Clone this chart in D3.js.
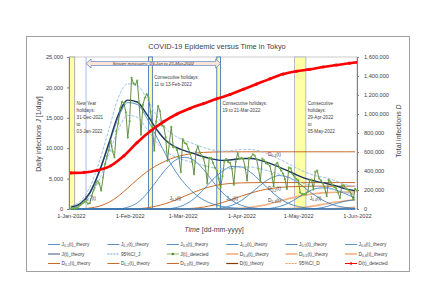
<!DOCTYPE html>
<html>
<head>
<meta charset="utf-8">
<script src="https://cdn.jsdelivr.net/npm/d3@7"></script>
<style>
  body { margin: 0; background: #fff; }
  svg { font-family: "Liberation Sans", Arial, sans-serif; }
</style>
</head>
<body>
<svg id="chart" width="436" height="308"></svg>
<script>
// ---- data ----
const startDate = new Date(2022, 0, 1);

// theory curves are read every 5 days from 1-Jan-2022
const theoryDay = [0, 5, 10, 15, 20, 25, 30, 35, 40, 45, 50, 55, 60, 65, 70, 75, 80, 85, 90, 95, 100, 105, 110, 115, 120, 125, 130, 135, 140, 145, 150];

const J01 = [100, 700, 2500, 6000, 10500, 15000, 17500, 17200, 15000, 12000, 9000, 6300, 4200, 2600, 1500, 800, 400, 200, 80, 30, 0, 0, 0, 0, 0, 0, 0, 0, 0, 0, 0];
const J02 = [0, 0, 0, 0, 0, 0, 300, 1000, 2500, 4500, 6500, 8000, 8500, 8000, 6500, 4500, 2700, 1400, 600, 200, 60, 0, 0, 0, 0, 0, 0, 0, 0, 0, 0];
const J03 = [0, 0, 0, 0, 0, 0, 0, 0, 0, 0, 0, 200, 700, 1700, 3200, 4900, 6200, 7000, 6900, 6000, 4600, 3100, 1800, 900, 400, 150, 50, 0, 0, 0, 0];
const J04 = [0, 0, 0, 0, 0, 0, 0, 0, 0, 0, 0, 0, 0, 0, 0, 0, 200, 600, 1400, 2600, 3900, 5000, 5500, 5200, 4300, 3100, 2000, 1100, 550, 250, 100];
const J05 = [0, 0, 0, 0, 0, 0, 0, 0, 0, 0, 0, 0, 0, 0, 0, 0, 0, 0, 0, 0, 0, 100, 400, 1000, 1900, 2800, 3400, 3500, 3100, 2500, 1800];
const J06 = [0, 0, 0, 0, 0, 0, 0, 0, 0, 0, 0, 0, 0, 0, 0, 0, 0, 0, 0, 0, 0, 0, 0, 0, 0, 0, 100, 400, 900, 1300, 1500];

const Jtheory = [300, 900, 2700, 6200, 10800, 15500, 17900, 17600, 15600, 13200, 11300, 10200, 9600, 9100, 8600, 8200, 8000, 8100, 8300, 8300, 8000, 7500, 6900, 6200, 5500, 4900, 4500, 4200, 3800, 3300, 3000];
const JupperCI = [500, 1300, 3600, 7800, 13000, 18300, 20600, 20300, 18200, 15500, 13300, 12000, 11300, 10700, 10100, 9700, 9500, 9600, 9800, 9800, 9500, 8900, 8200, 7400, 6600, 5900, 5400, 5100, 4600, 4000, 3700];
const JlowerCI = [150, 600, 2000, 4800, 8900, 13000, 15400, 15100, 13200, 11100, 9500, 8600, 8000, 7600, 7200, 6800, 6600, 6700, 6900, 6900, 6600, 6200, 5700, 5100, 4500, 4000, 3700, 3400, 3100, 2700, 2400];

const D01 = [0, 2000, 10000, 30000, 70000, 135000, 220000, 310000, 390000, 455000, 505000, 545000, 570000, 587000, 596000, 600000, 602000, 602000, 602000, 602000, 602000, 602000, 602000, 602000, 602000, 602000, 602000, 602000, 602000, 602000, 602000];
const D02 = [0, 0, 0, 0, 0, 0, 0, 3000, 12000, 30000, 57000, 93000, 135000, 177000, 214000, 242000, 260000, 270000, 275000, 277000, 278000, 278000, 278000, 278000, 278000, 278000, 278000, 278000, 278000, 278000, 278000];
const D03 = [0, 0, 0, 0, 0, 0, 0, 0, 0, 0, 0, 0, 2000, 8000, 20000, 40000, 68000, 101000, 136000, 168000, 195000, 214000, 227000, 234000, 237000, 239000, 240000, 240000, 240000, 240000, 240000];
const D04 = [0, 0, 0, 0, 0, 0, 0, 0, 0, 0, 0, 0, 0, 0, 0, 0, 0, 2000, 7000, 17000, 33000, 55000, 82000, 109000, 133000, 151000, 164000, 172000, 176000, 178000, 179000];
const D05 = [0, 0, 0, 0, 0, 0, 0, 0, 0, 0, 0, 0, 0, 0, 0, 0, 0, 0, 0, 0, 0, 0, 1000, 4000, 11000, 23000, 38000, 56000, 73000, 87000, 98000];
const D06 = [0, 0, 0, 0, 0, 0, 0, 0, 0, 0, 0, 0, 0, 0, 0, 0, 0, 0, 0, 0, 0, 0, 0, 0, 0, 0, 0, 1000, 4000, 10000, 17000];

// detected daily infections, 1-Jan-2022 .. 1-Jun-2022
const Jdetected = [
  79, 84, 103, 151, 390, 641, 922, 1224, 1223, 871, 962, 2198, 3124, 4051, 4561, 4172, 3023, 5185, 7377, 8638, 9699, 11227, 9468, 8503, 12813, 14086, 16538, 17631, 17433, 15895, 11751,
  14445, 21576, 20679, 20442, 21122, 17526, 12214, 17113, 18287, 18891, 18287, 16015, 13625, 9581, 14368, 16912, 16116, 13746, 13577, 11815, 7899, 10986, 13507, 10169, 10190, 9710, 8549, 6070,
  11480, 10870, 10700, 9900, 9100, 7800, 5700, 9400, 10300, 9300, 8800, 8300, 7000, 4200, 8400, 8400, 7600, 6800, 6300, 5000, 3500, 5400, 7800, 8200, 7700, 7600, 6600, 4000, 7800, 9200, 8200,
  8400, 8200, 6800, 4700, 8400, 8500, 9000, 8800, 8200, 6600, 4600, 8300, 8000, 7500, 7400, 7100, 5800, 3700, 7300, 7600, 6800, 6300, 5800, 4900, 3300, 6800, 6700, 5700, 5300, 4900,
  4700, 2700, 2500, 2400, 2400, 2800, 4700, 4800, 3200, 6100, 6300, 5000, 4700, 4200, 3400, 2100, 4800, 4500, 4000, 3600, 3400, 2700, 1800, 3900, 3900, 3400, 3200, 3000, 2400, 1600, 3300,
  3000
];

// detected total infections, read about once a week
const Dday = [0, 7, 14, 21, 28, 35, 42, 49, 56, 63, 70, 77, 84, 91, 98, 105, 112, 119, 126, 133, 140, 147, 151];
const Ddetected = [380000, 385000, 408000, 455000, 560000, 700000, 820000, 920000, 1000000, 1060000, 1110000, 1160000, 1205000, 1260000, 1315000, 1370000, 1420000, 1450000, 1470000, 1495000, 1515000, 1535000, 1545000];

const leftTicks = [0, 5000, 10000, 15000, 20000, 25000];
const rightTicks = [0, 200000, 400000, 600000, 800000, 1000000, 1200000, 1400000, 1600000];
const monthTicks = ["2022-01-01", "2022-02-01", "2022-03-01", "2022-04-01", "2022-05-01", "2022-06-01"];

// holiday bands [from, to, border]
const holidays = [
  ["2021-12-31", "2022-01-03", "#a6a6a6"],
  ["2022-02-11", "2022-02-13", "#4472c4"],
  ["2022-03-19", "2022-03-21", "#4472c4"],
  ["2022-04-29", "2022-05-05", "#a9b8cc"]
];

// ---- setup ----
const svg = d3.select("#chart");
const plot = {left: 69, right: 357, top: 57, bottom: 209};
const parse = d3.timeParse("%Y-%m-%d");
const dayToDate = d => d3.timeDay.offset(startDate, d);

const x = d3.scaleTime()
  .domain([parse("2021-12-31"), parse("2022-06-01")])
  .range([plot.left, plot.right]);
const yL = d3.scaleLinear().domain([0, 25000]).range([plot.bottom, plot.top]);
const yR = d3.scaleLinear().domain([0, 1600000]).range([plot.bottom, plot.top]);

svg.append("rect").attr("width", 436).attr("height", 308).attr("fill", "#fff");
svg.append("rect")
  .attr("x", 26.5).attr("y", 36.5).attr("width", 383).attr("height", 235)
  .attr("fill", "#fff").attr("stroke", "#a0a0a0").attr("stroke-width", 1);

svg.append("defs").append("clipPath").attr("id", "clip")
  .append("rect")
  .attr("x", plot.left).attr("y", plot.top - 2)
  .attr("width", plot.right - plot.left).attr("height", plot.bottom - plot.top + 3);

// plot border
svg.append("rect")
  .attr("x", plot.left).attr("y", plot.top)
  .attr("width", plot.right - plot.left).attr("height", plot.bottom - plot.top)
  .attr("fill", "none").attr("stroke", "#bfbfbf").attr("stroke-width", 0.8);

const g = svg.append("g").attr("clip-path", "url(#clip)");

// holiday bands
holidays.forEach(h => {
  g.append("rect")
    .attr("x", x(parse(h[0])))
    .attr("y", plot.top)
    .attr("width", x(parse(h[1])) - x(parse(h[0])))
    .attr("height", plot.bottom - plot.top)
    .attr("fill", "#ffffa6")
    .attr("stroke", h[2]).attr("stroke-width", 0.9);
});

// start of stricter measures
g.append("line")
  .attr("x1", x(parse("2022-01-09"))).attr("x2", x(parse("2022-01-09")))
  .attr("y1", plot.top).attr("y2", plot.bottom)
  .attr("stroke", "#8faadc").attr("stroke-width", 0.8);

// ---- lines ----
function drawSeries(vals, days, yScale, style) {
  const pts = vals.map((v, i) => [dayToDate(days[i]), v]);
  g.append("path")
    .datum(pts)
    .attr("fill", "none")
    .attr("stroke", style.color)
    .attr("stroke-width", style.width || 0.8)
    .attr("stroke-dasharray", style.dash || null)
    .attr("d", d3.line().x(d => x(d[0])).y(d => yScale(d[1])).curve(style.curve || d3.curveMonotoneX));
}

[D01, D02, D03].forEach(s => drawSeries(s, theoryDay, yR, {color: "#c55a11", width: 0.9}));
[D04, D05, D06].forEach(s => drawSeries(s, theoryDay, yR, {color: "#f4b183", width: 1.6}));

[J01, J02, J03, J04, J05, J06].forEach(s => drawSeries(s, theoryDay, yL, {color: "#2e75b6", width: 0.8}));
drawSeries(JupperCI, theoryDay, yL, {color: "#9dc3e6", width: 1, dash: "3,1.5"});
drawSeries(JlowerCI, theoryDay, yL, {color: "#9dc3e6", width: 1, dash: "3,1.5"});
drawSeries(Jtheory, theoryDay, yL, {color: "#1f3864", width: 1.4});

// detected daily
const jdays = Jdetected.map((v, i) => i);
drawSeries(Jdetected, jdays, yL, {color: "#548235", width: 0.9, curve: d3.curveLinear});
g.selectAll(".jdot")
  .data(Jdetected)
  .enter().append("circle")
  .attr("class", "jdot")
  .attr("cx", (d, i) => x(dayToDate(i)))
  .attr("cy", d => yL(d))
  .attr("r", 1.1)
  .attr("fill", "#70ad47");

// detected total
drawSeries(Ddetected, Dday, yR, {color: "#ff0000", width: 2.6});
g.selectAll(".ddot")
  .data(Ddetected)
  .enter().append("circle")
  .attr("class", "ddot")
  .attr("cx", (d, i) => x(dayToDate(Dday[i])))
  .attr("cy", d => yR(d))
  .attr("r", 1.6)
  .attr("fill", "#ff0000");

// ---- axes ----
const axisFont = 5.6;
const leftAxis = svg.append("g")
  .attr("transform", "translate(" + plot.left + ",0)")
  .call(d3.axisLeft(yL).tickValues(leftTicks).tickFormat(d3.format(",")).tickSize(2).tickPadding(4));
const rightAxis = svg.append("g")
  .attr("transform", "translate(" + plot.right + ",0)")
  .call(d3.axisRight(yR).tickValues(rightTicks).tickFormat(d3.format(",")).tickSize(2).tickPadding(5));
const bottomAxis = svg.append("g")
  .attr("transform", "translate(0," + plot.bottom + ")")
  .call(d3.axisBottom(x).tickValues(monthTicks.map(parse)).tickFormat(d3.timeFormat("%-d-%b-%Y")).tickSize(0).tickPadding(5));

[leftAxis, rightAxis, bottomAxis].forEach(a => {
  a.selectAll("text").attr("font-size", axisFont).attr("fill", "#404040").attr("font-family", "Liberation Sans, Arial, sans-serif");
  a.selectAll("line").attr("stroke", "#808080");
  a.select(".domain").attr("stroke", "#808080");
});
bottomAxis.select(".domain").remove();

// ---- titles ----
svg.append("text")
  .attr("x", 217).attr("y", 49)
  .attr("text-anchor", "middle")
  .attr("font-size", 7.4).attr("fill", "#404040")
  .text("COVID-19 Epidemic versus Time in Tokyo");

const yTitle = svg.append("text")
  .attr("transform", "translate(41,134) rotate(-90)")
  .attr("text-anchor", "middle")
  .attr("font-size", 7).attr("fill", "#404040");
yTitle.append("tspan").text("Daily infections ");
yTitle.append("tspan").attr("font-style", "italic").text("J");
yTitle.append("tspan").text(" [1/day]");

const y2Title = svg.append("text")
  .attr("transform", "translate(401,131) rotate(-90)")
  .attr("text-anchor", "middle")
  .attr("font-size", 7).attr("fill", "#404040");
y2Title.append("tspan").text("Total infections ");
y2Title.append("tspan").attr("font-style", "italic").text("D");

const xTitle = svg.append("text")
  .attr("x", 214).attr("y", 232)
  .attr("text-anchor", "middle")
  .attr("font-size", 7).attr("fill", "#404040");
xTitle.append("tspan").attr("font-style", "italic").text("Time");
xTitle.append("tspan").text(" [dd-mm-yyyy]");

// ---- annotations ----
function note(lines, xp, yp, size) {
  const t = svg.append("text").attr("font-size", size || 4.6).attr("fill", "#404040");
  lines.forEach((l, i) => t.append("tspan").attr("x", xp).attr("y", yp + i * 7).text(l));
}
note(["New Year", "holidays:", "31-Dec-2021", "to", "03-Jan-2022"], x(parse("2022-01-04")), 105);
note(["Consecutive holidays:", "11 to 13-Feb-2022"], x(parse("2022-02-14")), 79);
note(["Consecutive holidays:", "19 to 21-Mar-2022"], x(parse("2022-03-22")), 105);
note(["Consecutive", "holidays:", "29-Apr-2022", "to", "05-May-2022"], x(parse("2022-05-06")), 105);

// stricter measures arrow
const ax0 = x(parse("2022-01-09")), ax1 = x(parse("2022-03-21"));
const ay = 63.5;
svg.append("path")
  .attr("d", "M" + ax0 + "," + ay + " l5,-4.5 v2.5 H" + (ax1 - 5) + " v-2.5 l5,4.5 l-5,4.5 v-2.5 H" + (ax0 + 5) + " v2.5 Z")
  .attr("fill", "#fbe5d6").attr("stroke", "#4472c4").attr("stroke-width", 0.6);
svg.append("text")
  .attr("x", (ax0 + ax1) / 2).attr("y", ay + 1.6)
  .attr("text-anchor", "middle")
  .attr("font-size", 4.4).attr("font-style", "italic").attr("fill", "#404040")
  .text("Stricter measures: 09-Jan to 21-Mar-2022");

// curve labels with subscripts
function subLabel(parent, xp, yp, main, sub, rest, size, color) {
  const t = parent.append("text").attr("x", xp).attr("y", yp).attr("font-size", size).attr("fill", color || "#404040");
  t.append("tspan").text(main);
  t.append("tspan").attr("font-size", size * 0.7).attr("dy", size * 0.25).text(sub);
  t.append("tspan").attr("dy", -size * 0.25).text(rest);
  return t;
}
subLabel(svg, x(parse("2022-01-08")), yL(1500), "J", "0-1", "(t)", 4.8);
subLabel(svg, x(parse("2022-02-22")), yL(1500), "J", "0-2", "(t)", 4.8);
subLabel(svg, x(parse("2022-03-24")), yL(1500), "J", "0-3", "(t)", 4.8);
subLabel(svg, x(parse("2022-05-07")), yL(1500), "J", "0-4", "(t)", 4.8);
subLabel(svg, x(parse("2022-04-15")), yR(560000), "D", "0-1", "(t)", 4.8);
subLabel(svg, x(parse("2022-04-15")), yR(195000), "D", "0-2", "(t)", 4.8);
subLabel(svg, x(parse("2022-04-15")), yR(72000), "D", "0-3", "(t)", 4.8);

// ---- legend ----
const legendItems = [
  ["J", "0-1", "(t)_theory", {color: "#2e75b6", width: 0.8}],
  ["J", "0-2", "(t)_theory", {color: "#2e75b6", width: 0.8}],
  ["J", "0-3", "(t)_theory", {color: "#2e75b6", width: 0.8}],
  ["J", "0-4", "(t)_theory", {color: "#2e75b6", width: 0.8}],
  ["J", "0-5", "(t)_theory", {color: "#2e75b6", width: 0.8}],
  ["J", "0-6", "(t)_theory", {color: "#2e75b6", width: 0.8}],
  ["J", "", "(t)_theory", {color: "#8497b0", width: 1.6}],
  ["95%CI_J", "", "", {color: "#9dc3e6", width: 1.4, dash: "2,1"}],
  ["J", "", "(t)_detected", {color: "#a9d18e", width: 1.4, dot: "#548235"}],
  ["D", "0-4", "(t)_theory", {color: "#f4b183", width: 1.6}],
  ["D", "0-5", "(t)_theory", {color: "#f4b183", width: 1.6}],
  ["D", "0-6", "(t)_theory", {color: "#f4b183", width: 1.6}],
  ["D", "0-1", "(t)_theory", {color: "#c55a11", width: 0.9}],
  ["D", "0-2", "(t)_theory", {color: "#c55a11", width: 0.9}],
  ["D", "0-3", "(t)_theory", {color: "#c55a11", width: 0.9}],
  ["D", "", "(t)_theory", {color: "#843c0c", width: 1.2}],
  ["95%CI_D", "", "", {color: "#ed7d31", width: 0.8, dash: "2,1"}],
  ["D", "", "(t)_detected", {color: "#ff0000", width: 1, dot: "#ff0000"}]
];
const legend = svg.append("g");
legendItems.forEach((it, i) => {
  const col = i % 6, row = Math.floor(i / 6);
  const lx = 48 + col * 59.4, ly = 244.5 + row * 9.5;
  const s = it[3];
  legend.append("line")
    .attr("x1", lx).attr("x2", lx + 12).attr("y1", ly).attr("y2", ly)
    .attr("stroke", s.color).attr("stroke-width", s.width).attr("stroke-dasharray", s.dash || null);
  if (s.dot) {
    legend.append("circle").attr("cx", lx + 6).attr("cy", ly).attr("r", 1.2).attr("fill", s.dot);
  }
  if (it[1] === "") {
    legend.append("text").attr("x", lx + 13.5).attr("y", ly + 1.7).attr("font-size", 4.8).attr("fill", "#404040").text(it[0] + it[2]);
  } else {
    subLabel(legend, lx + 13.5, ly + 1.7, it[0], it[1], it[2], 4.8);
  }
});
</script>
</body>
</html>
